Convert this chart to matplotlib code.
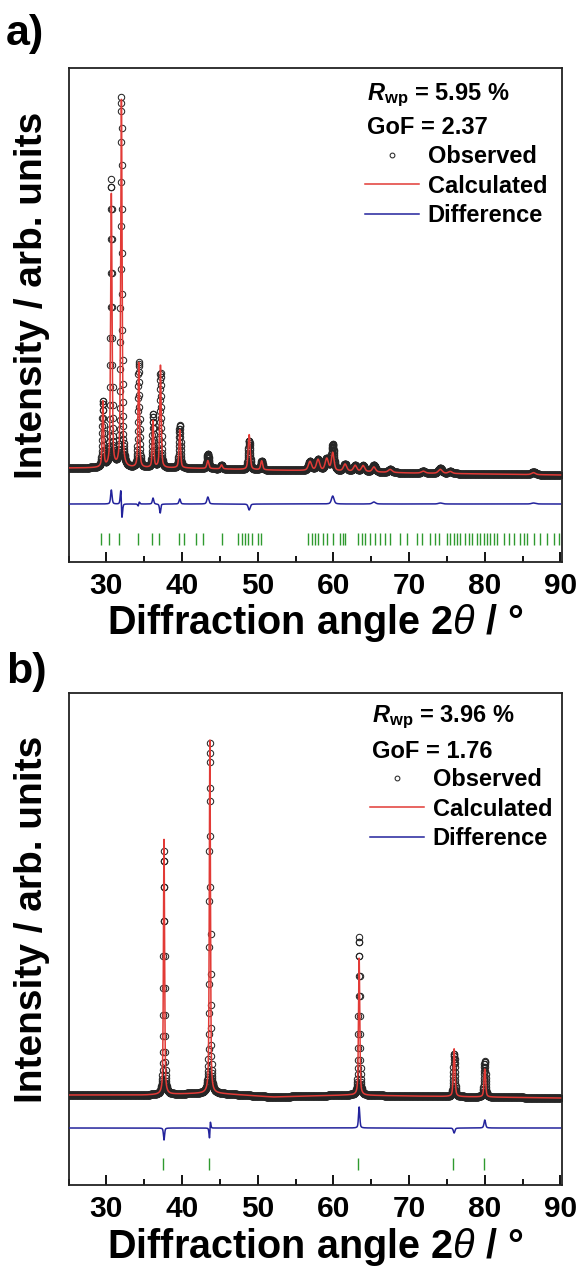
import numpy as np
import matplotlib
matplotlib.use("Agg")
import matplotlib.pyplot as plt
from matplotlib.ticker import MultipleLocator

plt.rcParams["font.family"] = ["Liberation Sans", "DejaVu Sans"]
plt.rcParams["font.weight"] = "bold"
plt.rcParams["axes.labelweight"] = "bold"
plt.rcParams["mathtext.fontset"] = "custom"
plt.rcParams["mathtext.rm"] = "Liberation Sans:bold"
plt.rcParams["mathtext.bf"] = "Liberation Sans:bold"
plt.rcParams["mathtext.it"] = "Liberation Sans:style=italic:weight=normal"
plt.rcParams["mathtext.bfit"] = "Liberation Sans:bold:italic"

# ---- panel a: read peak list (2theta, calc height, obs height, obs shift, fwhm)
a_pos = [29.55, 30.66, 31.99, 34.28, 36.17, 37.15, 39.70, 43.41, 45.22, 48.87,
         50.52, 56.90, 57.97, 59.12, 59.91, 61.54, 62.87, 63.92, 65.35, 67.50,
         71.87, 74.12, 75.44, 86.43]
a_calc = [66, 273, 370, 105, 47, 103, 38, 8, 4, 35,
          9, 9, 11, 12, 18, 7, 6, 6, 5, 3,
          2, 4, 2, 2]
a_obs = [66, 287, 370, 105, 53, 95, 43, 15, 4, 29,
         9, 9, 11, 12, 26, 7, 6, 6, 7, 3,
         2, 5, 2, 3]
a_shift = [0, 0, -0.006, 0.003, 0, 0.004, 0, 0, 0, 0,
           0, 0, 0, 0, 0, 0, 0, 0, 0, 0,
           0, 0, 0, 0]
a_fwhm = [0.22, 0.22, 0.22, 0.22, 0.22, 0.22, 0.24, 0.3, 0.3, 0.3,
          0.3, 0.5, 0.5, 0.5, 0.4, 0.5, 0.5, 0.5, 0.5, 0.6,
          0.6, 0.6, 0.6, 0.6]
a_bg_deg = [25, 40, 51, 60, 70, 80, 90]
a_bg_lvl = [0, 0, -2, -3, -5, -6, -7]
a_ticks = [29.33, 30.35, 31.67, 34.19, 36.08, 36.97, 39.61, 40.23, 41.82, 42.79,
           45.22, 47.42, 47.86, 48.31, 48.75, 49.19, 50.07, 50.38, 56.69, 57.13,
           57.57, 58.01, 58.67, 59.12, 60.00, 60.88, 61.23, 61.54, 63.31, 63.75,
           64.19, 64.85, 65.51, 66.17, 66.83, 67.50, 68.82, 69.70, 71.03, 71.69,
           72.79, 73.45, 73.90, 75.00, 75.44, 75.88, 76.32, 76.76, 77.43, 77.87,
           78.31, 78.97, 79.41, 79.85, 80.29, 80.73, 81.18, 81.62, 82.50, 83.16,
           83.82, 84.71, 85.15, 85.59, 86.47, 87.35, 88.24, 89.12, 89.78]

# ---- panel b
b_pos = [37.62, 43.68, 63.40, 75.95, 80.00]
b_calc = [255, 353, 137, 48, 28]
b_obs = [243, 350, 158, 43, 36]
b_shift = [0, 0.003, 0, 0, 0]
b_fwhm = [0.18, 0.18, 0.2, 0.25, 0.25]
b_bg_deg = [25, 35, 44, 52, 62, 70, 90]
b_bg_lvl = [0, 0, 2, -2, 0, -1, -3]
b_ticks = [37.55, 43.60, 63.30, 75.85, 79.90]

panels = [
    dict(tag="a)", pos=a_pos, calc=a_calc, obs=a_obs, shift=a_shift, fwhm=a_fwhm,
         bg_deg=a_bg_deg, bg_lvl=a_bg_lvl, ticks=a_ticks, rwp="5.95", gof="2.37",
         ylim=(-94, 400), diff_off=-36, tick_y=(-77, -65)),
    dict(tag="b)", pos=b_pos, calc=b_calc, obs=b_obs, shift=b_shift, fwhm=b_fwhm,
         bg_deg=b_bg_deg, bg_lvl=b_bg_lvl, ticks=b_ticks, rwp="3.96", gof="1.76",
         ylim=(-90, 402), diff_off=-33, tick_y=(-75, -63)),
]

two_theta = np.arange(25.0, 90.0001, 0.02)


def pseudo_voigt(x, pos, height, fwhm, eta=0.5):
    d = (x - pos) / fwhm
    return height * (eta / (1 + 4 * d**2) + (1 - eta) * np.exp(-4 * np.log(2) * d**2))


def profiles(p):
    bg = np.interp(two_theta, p["bg_deg"], p["bg_lvl"])
    calc = bg.copy()
    obs = bg.copy()
    for pos, hc, ho, sh, w in zip(p["pos"], p["calc"], p["obs"], p["shift"], p["fwhm"]):
        calc += pseudo_voigt(two_theta, pos, hc, w)
        obs += pseudo_voigt(two_theta, pos + sh, ho, w)
    return obs, calc


RED = "#e23a36"
BLUE = "#23239c"
GREEN = "#2f9a2f"
W, H = 580, 1269

fig = plt.figure(figsize=(W / 100, H / 100), dpi=100)
boxes = [(68.5, 68, 562, 562), (68.5, 693, 562, 1185)]
leg_pos = [(365, 95, 128, 145), (370, 717, 752, 768)]
tag_y = [34, 672]

for p, (x0, y0, x1, y1), (lx, ry, gy, ly), ty in zip(panels, boxes, leg_pos, tag_y):
    ax = fig.add_axes([x0 / W, 1 - y1 / H, (x1 - x0) / W, (y1 - y0) / H])
    obs, calc = profiles(p)
    diff = obs - calc + p["diff_off"]

    h_obs, = ax.plot(two_theta, obs, ls="none", marker="o", ms=4.6, mfc="none",
                     mec="#262626", mew=0.75, zorder=2, label="Observed")
    h_calc, = ax.plot(two_theta, calc, color=RED, lw=1.1, zorder=3, label="Calculated")
    h_diff, = ax.plot(two_theta, diff, color=BLUE, lw=1.1, zorder=3, label="Difference")
    ax.vlines(p["ticks"], p["tick_y"][0], p["tick_y"][1], color=GREEN, lw=1.0)

    ax.set_xlim(25, 90.2)
    ax.set_ylim(*p["ylim"])
    ax.set_yticks([])
    ax.xaxis.set_major_locator(MultipleLocator(10))
    ax.xaxis.set_minor_locator(MultipleLocator(5))
    ax.tick_params(axis="x", which="major", direction="in", length=7, width=1.3,
                   labelsize=21.5, pad=7)
    ax.tick_params(axis="x", which="minor", direction="in", length=4, width=1.3)
    for s in ax.spines.values():
        s.set_linewidth(1.3)
        s.set_color("#222222")
    ax.set_xlabel(r"Diffraction angle 2$\theta$ / °", fontsize=28.5, labelpad=2)

    ax_w, ax_h = x1 - x0, y1 - y0
    tx = (lx + 2 - x0) / ax_w
    ax.text(tx, (y1 - ry) / ax_h, r"$\mathbfit{R}_{\mathbf{wp}}$ = " + p["rwp"] + " %",
            transform=ax.transAxes, fontsize=17, va="center", ha="left")
    ax.text(tx, (y1 - gy) / ax_h, "GoF = " + p["gof"],
            transform=ax.transAxes, fontsize=17, va="center", ha="left")
    ax.legend(handles=[h_obs, h_calc, h_diff], loc="upper left",
              bbox_to_anchor=((lx - x0) / ax_w, (y1 - ly) / ax_h),
              frameon=False, fontsize=17, handlelength=2.3, handletextpad=0.35,
              labelspacing=0.28, borderpad=0, borderaxespad=0, numpoints=1,
              markerscale=0.75)

    fig.text(32 / W, 1 - ((y0 + y1) / 2 - 20) / H, "Intensity / arb. units",
             rotation=90, fontsize=28, ha="center", va="center")
    fig.text(6 / W, 1 - ty / H, p["tag"], fontsize=31, ha="left", va="center")

fig.savefig("out.png", dpi=100)
